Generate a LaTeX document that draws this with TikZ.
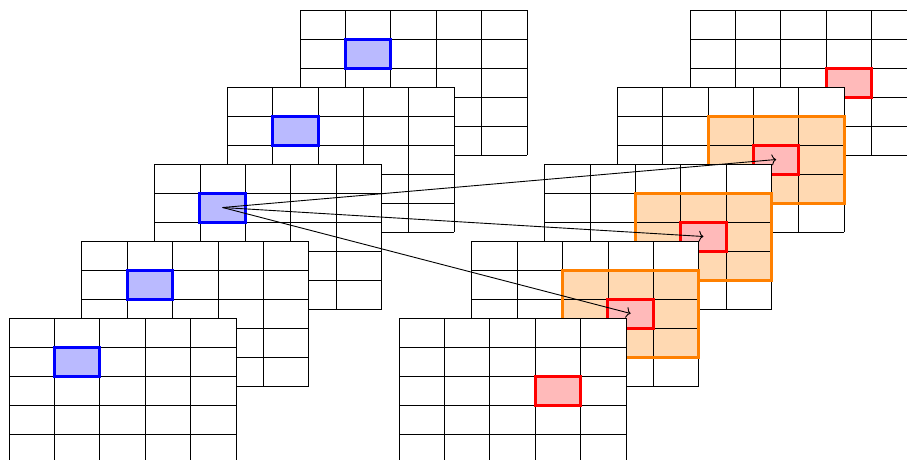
\documentclass[tikz,border=0pt]{standalone}
\usetikzlibrary{arrows.meta}
\begin{document}
\begin{tikzpicture}[x=1pt,y=-1pt,
  gridline/.style={line width=0.75pt, draw=black},
  bluebox/.style={draw=blue, line width=3pt},
  redbox/.style={draw=red, line width=3pt},
  orangebox/.style={draw=orange, line width=3pt},
  linkarrow/.style={-{To[length=4.5pt,width=11pt]}, line width=0.9pt, black}]
\useasboundingbox (0,0) rectangle (907,459);
\clip (0,0) rectangle (907,459);
% left stack
\foreach \k in {0,...,4} {
  \pgfmathsetmacro\gx{300-72.75*\k}
  \pgfmathsetmacro\gy{10+77*\k}
  \begin{scope}[shift={(\gx,\gy)}]
    \fill[white] (0,0) rectangle (227,145);
    \fill[blue!27] (45.4,29) rectangle (90.8,58);
    \foreach \i in {0,...,5} \draw[gridline] (\i*45.4,0) -- (\i*45.4,145);
    \foreach \j in {0,...,5} \draw[gridline] (0,\j*29) -- (227,\j*29);
    \draw[bluebox] (45.4,29) rectangle (90.8,58);
    \coordinate (L\k) at (68.1,43.5);
  \end{scope}
}
% right stack
\foreach \k in {0,...,4} {
  \pgfmathsetmacro\gx{690-72.75*\k}
  \pgfmathsetmacro\gy{10+77*\k}
  \begin{scope}[shift={(\gx,\gy)}]
    \fill[white] (0,0) rectangle (227,145);
    \ifnum\k>0 \ifnum\k<4 \fill[orange!30] (90.8,29) rectangle (227,116); \fi\fi
    \fill[red!27] (136.2,58) rectangle (181.6,87);
    \foreach \i in {0,...,5} \draw[gridline] (\i*45.4,0) -- (\i*45.4,145);
    \foreach \j in {0,...,5} \draw[gridline] (0,\j*29) -- (227,\j*29);
    \ifnum\k>0 \ifnum\k<4 \draw[orangebox] (90.8,29) rectangle (227,116); \fi\fi
    \draw[redbox] (136.2,58) rectangle (181.6,87);
    \coordinate (R\k) at (158.9,72.5);
  \end{scope}
}
\draw[linkarrow] (L2) -- (R1);
\draw[linkarrow] (L2) -- (R2);
\draw[linkarrow] (L2) -- (R3);
\end{tikzpicture}
\end{document}
